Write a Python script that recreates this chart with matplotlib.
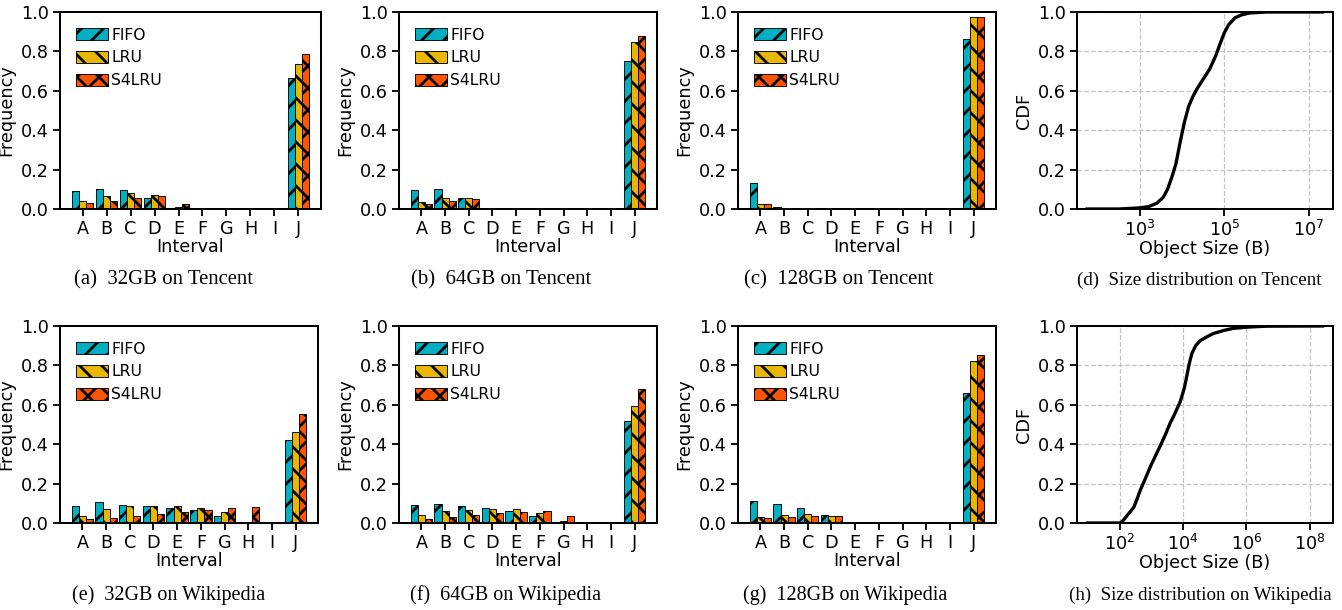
import numpy as np
import matplotlib
matplotlib.use("Agg")
import matplotlib.pyplot as plt
from matplotlib.ticker import FixedLocator, NullLocator, LogFormatterMathtext

plt.rcParams['font.family'] = ['DejaVu Sans']
plt.rcParams['hatch.linewidth'] = 1.5
plt.rcParams['hatch.color'] = 'black'

intervals = ['A', 'B', 'C', 'D', 'E', 'F', 'G', 'H', 'I', 'J']
policies = ['FIFO', 'LRU', 'S4LRU']

# frequency per interval, one list per policy
tencent_32 = {
    'FIFO':  [0.090, 0.100, 0.095, 0.055, 0.000, 0, 0, 0, 0, 0.665],
    'LRU':   [0.040, 0.065, 0.080, 0.073, 0.008, 0, 0, 0, 0, 0.735],
    'S4LRU': [0.028, 0.043, 0.057, 0.067, 0.025, 0, 0, 0, 0, 0.785],
}
tencent_64 = {
    'FIFO':  [0.095, 0.100, 0.058, 0.004, 0, 0, 0, 0, 0, 0.750],
    'LRU':   [0.037, 0.057, 0.055, 0.005, 0, 0, 0, 0, 0, 0.850],
    'S4LRU': [0.027, 0.040, 0.050, 0.005, 0, 0, 0, 0, 0, 0.880],
}
tencent_128 = {
    'FIFO':  [0.130, 0.010, 0, 0, 0, 0, 0, 0, 0, 0.865],
    'LRU':   [0.027, 0.004, 0, 0, 0, 0, 0, 0, 0, 0.975],
    'S4LRU': [0.025, 0.003, 0, 0, 0, 0, 0, 0, 0, 0.977],
}
wiki_32 = {
    'FIFO':  [0.085, 0.105, 0.092, 0.085, 0.078, 0.065, 0.038, 0.000, 0.000, 0.420],
    'LRU':   [0.037, 0.070, 0.088, 0.088, 0.085, 0.077, 0.057, 0.005, 0.000, 0.460],
    'S4LRU': [0.020, 0.027, 0.035, 0.045, 0.055, 0.065, 0.078, 0.082, 0.003, 0.552],
}
wiki_64 = {
    'FIFO':  [0.092, 0.097, 0.087, 0.078, 0.062, 0.037, 0.000, 0, 0, 0.520],
    'LRU':   [0.040, 0.060, 0.068, 0.073, 0.070, 0.052, 0.012, 0, 0, 0.595],
    'S4LRU': [0.020, 0.030, 0.040, 0.050, 0.058, 0.060, 0.035, 0, 0, 0.680],
}
wiki_128 = {
    'FIFO':  [0.110, 0.097, 0.078, 0.040, 0.003, 0, 0, 0, 0, 0.660],
    'LRU':   [0.030, 0.043, 0.045, 0.037, 0.006, 0, 0, 0, 0, 0.822],
    'S4LRU': [0.023, 0.032, 0.037, 0.035, 0.006, 0, 0, 0, 0, 0.852],
}

# CDF of object sizes (log10 of bytes, cumulative fraction)
tencent_log_size = [1.74, 2.5, 3.0, 3.2, 3.4, 3.55, 3.65, 3.75, 3.85, 3.95, 4.05, 4.15,
                    4.25, 4.35, 4.5, 4.65, 4.8, 4.9, 5.0, 5.1, 5.25, 5.4, 5.6, 6.0, 7.33]
tencent_cdf = [0.0, 0.0, 0.006, 0.012, 0.03, 0.06, 0.10, 0.16, 0.23, 0.34, 0.44, 0.52,
               0.57, 0.61, 0.66, 0.71, 0.78, 0.84, 0.895, 0.935, 0.97, 0.985, 0.995, 1.0, 1.0]
wiki_log_size = [0.99, 2.02, 2.1, 2.2, 2.35, 2.45, 2.55, 2.65, 2.8, 2.97, 3.13, 3.28, 3.45,
                 3.59, 3.7, 3.8, 3.9, 3.97, 4.05, 4.12, 4.2, 4.28, 4.4, 4.54, 4.75, 4.96,
                 5.3, 5.59, 6.1, 6.64, 8.4]
wiki_cdf = [0.0, 0.0, 0.01, 0.03, 0.06, 0.08, 0.12, 0.165, 0.22, 0.285, 0.34, 0.39, 0.45,
            0.505, 0.54, 0.575, 0.61, 0.645, 0.69, 0.745, 0.81, 0.86, 0.90, 0.925, 0.945,
            0.962, 0.978, 0.988, 0.995, 0.999, 1.0]

colors = {'FIFO': '#00AFC2', 'LRU': '#E8B800', 'S4LRU': '#FF5500'}
hatches = {'FIFO': '//', 'LRU': '\\\\', 'S4LRU': 'xx'}

W, H, DPI = 1342, 610, 132
fig = plt.figure(figsize=(W / DPI, H / DPI), dpi=DPI)

FS = 9.6


def px_axes(left, top, width=258, height=197):
    return fig.add_axes([left / W, 1 - (top + height) / H, width / W, height / H])


def bar_panel(ax, data):
    x = np.arange(len(intervals))
    w = 0.3
    for i, p in enumerate(policies):
        ax.bar(x + (i - 1) * w, data[p], w, color=colors[p], hatch=hatches[p],
               edgecolor='black', linewidth=0.5, label=p)
    ax.set_xticks(x)
    ax.set_xticklabels(intervals)
    ax.set_ylim(0, 1)
    ax.set_yticks(np.arange(0, 1.01, 0.2))
    ax.set_xlabel('Interval', fontsize=FS, labelpad=0)
    ax.set_ylabel('Frequency', fontsize=FS, labelpad=3)
    ax.tick_params(labelsize=FS, width=1.0, length=4, pad=2)
    for s in ax.spines.values():
        s.set_linewidth(1.1)
    ax.legend(loc='upper left', frameon=False, fontsize=8.5, handlelength=2.1,
              handleheight=0.85, labelspacing=0.5, handletextpad=0.2,
              borderaxespad=0.6)


def cdf_panel(ax, logs, cdf, xlim, ticks):
    ax.plot(10 ** np.array(logs), cdf, color='black', lw=1.8)
    ax.set_xscale('log')
    ax.set_xlim(10 ** xlim[0], 10 ** xlim[1])
    ax.set_ylim(0, 1)
    ax.set_yticks(np.arange(0, 1.01, 0.2))
    ax.xaxis.set_major_locator(FixedLocator([10.0 ** t for t in ticks]))
    ax.xaxis.set_major_formatter(LogFormatterMathtext())
    ax.xaxis.set_minor_locator(NullLocator())
    ax.grid(True, ls='--', color='#c4c4c4', lw=0.7)
    ax.set_axisbelow(True)
    ax.set_xlabel('Object Size (B)', fontsize=FS, labelpad=0)
    ax.set_ylabel('CDF', fontsize=FS, labelpad=3)
    ax.tick_params(labelsize=FS, width=1.0, length=4, pad=2)
    for s in ax.spines.values():
        s.set_linewidth(1.1)


lefts = [60, 399, 738, 1077]
tops = [12, 326]

bar_panel(px_axes(lefts[0], tops[0], 261), tencent_32)
bar_panel(px_axes(lefts[1], tops[0]), tencent_64)
bar_panel(px_axes(lefts[2], tops[0]), tencent_128)
cdf_panel(px_axes(lefts[3], tops[0], 256), tencent_log_size, tencent_cdf, (1.5, 7.58), [3, 5, 7])

bar_panel(px_axes(lefts[0], tops[1]), wiki_32)
bar_panel(px_axes(lefts[1], tops[1]), wiki_64)
bar_panel(px_axes(lefts[2], tops[1]), wiki_128)
cdf_panel(px_axes(lefts[3], tops[1], 256), wiki_log_size, wiki_cdf, (0.66, 8.73), [2, 4, 6, 8])

captions = [
    ('(a)  32GB on Tencent', 163, 280, 11.3),
    ('(b)  64GB on Tencent', 501, 280, 11.3),
    ('(c)  128GB on Tencent', 839, 280, 11.3),
    ('(d)  Size distribution on Tencent', 1199, 280, 10.4),
    ('(e)  32GB on Wikipedia', 169, 595, 11.0),
    ('(f)  64GB on Wikipedia', 505, 595, 11.0),
    ('(g)  128GB on Wikipedia', 845, 595, 11.0),
    ('(h)  Size distribution on Wikipedia', 1200, 595, 10.4),
]
for text, cx, cy, fs in captions:
    fig.text(cx / W, 1 - cy / H, text, ha='center', va='center',
             family='Liberation Serif', fontsize=fs)

fig.savefig('out.png', dpi=DPI)
